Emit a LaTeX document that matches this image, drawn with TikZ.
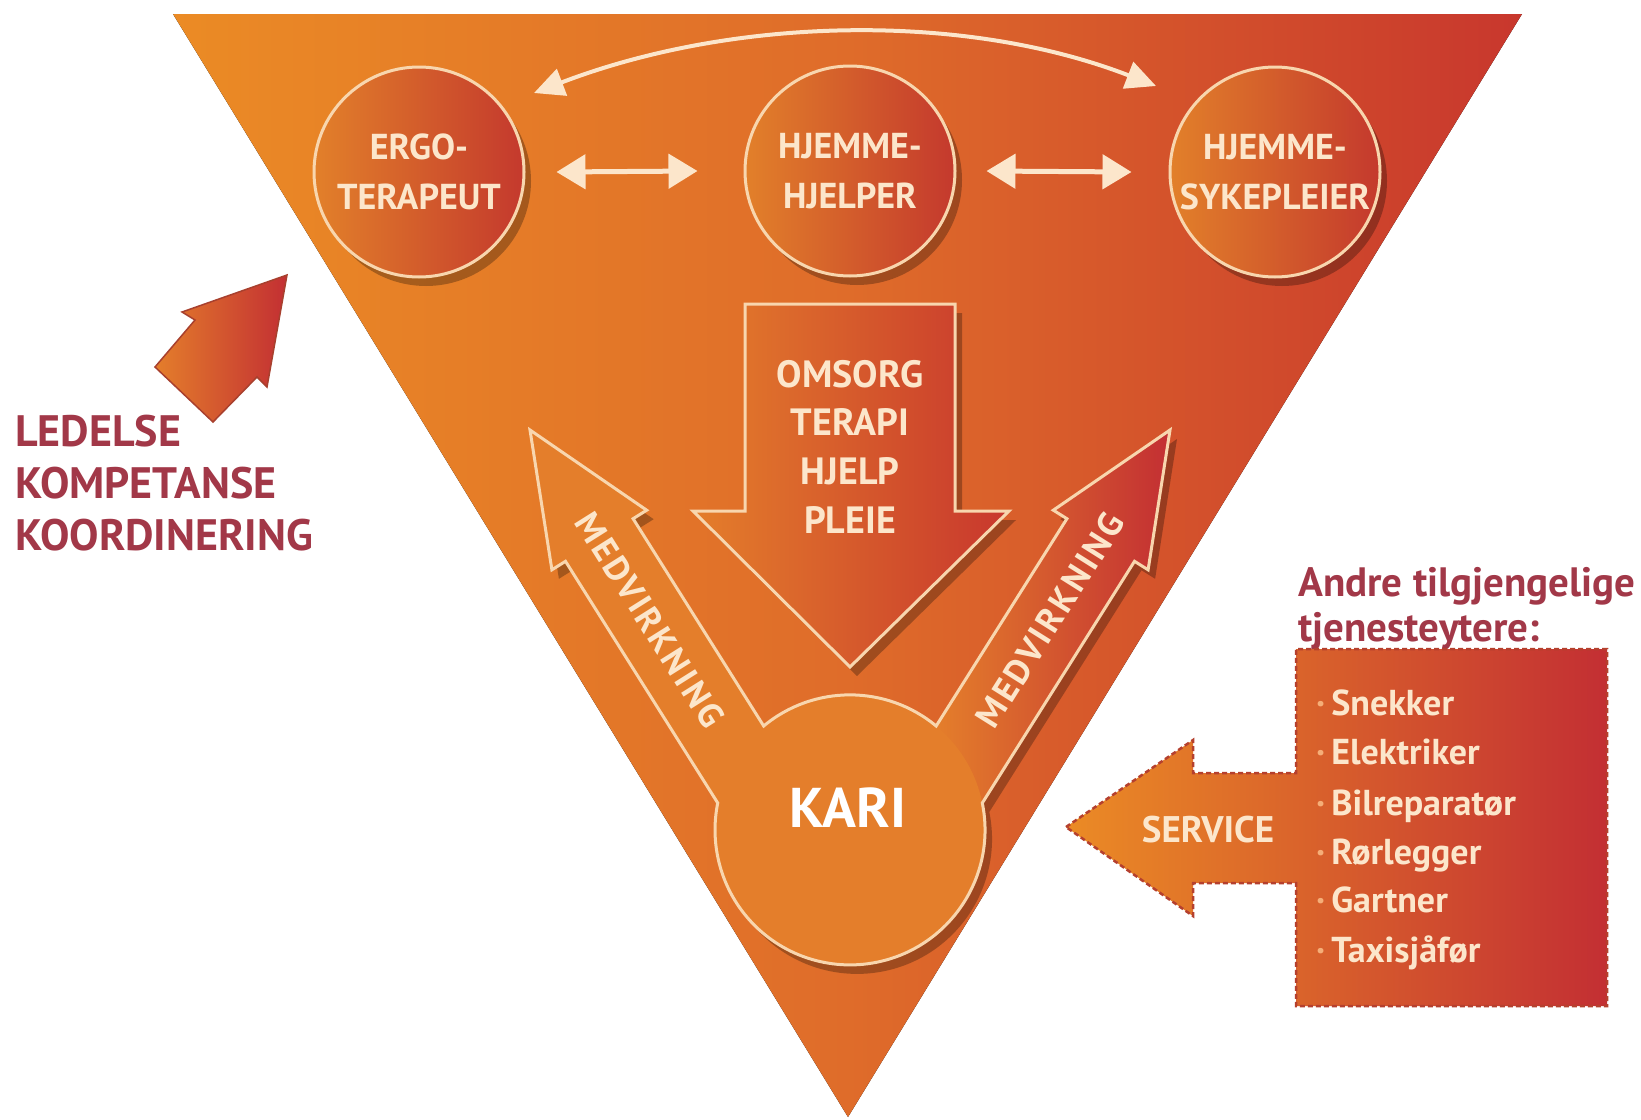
\documentclass[tikz,border=0pt]{standalone}
\usepackage{fontspec}
\setmainfont{PT Sans}
\newfontfamily\medfont[LetterSpace=8]{PT Sans}
\usetikzlibrary{arrows.meta,shadows}

\definecolor{triL}{HTML}{EB8B25}
\definecolor{triM}{HTML}{DF6C2A}
\definecolor{triR}{HTML}{C8372D}
\definecolor{cream}{HTML}{FCE6CB}
\definecolor{rim}{HTML}{F8D6AE}
\definecolor{maroon}{HTML}{A23848}
\definecolor{orA}{HTML}{E47E2B}
\definecolor{redA}{HTML}{C32F33}
\definecolor{cirL}{HTML}{E2802A}
\definecolor{cirR}{HTML}{C4392D}
\definecolor{dashC}{HTML}{B5402E}
\definecolor{bul}{HTML}{F5AE78}
\definecolor{ledline}{HTML}{A8402E}

\tikzset{
  shad/.style={drop shadow={shadow xshift=7pt, shadow yshift=-9pt, opacity=0.28, fill=black}},
  bubble/.style={circle, minimum size=210pt, inner sep=0pt, draw=rim, line width=3pt,
    left color=cirL, right color=cirR, text=cream, align=center,
    font=\bfseries\fontsize{36}{50}\selectfont, shad},
  pairarrow/.style={draw=cream, line width=5pt,
    {Triangle[length=29pt,width=34pt]}-{Triangle[length=29pt,width=34pt]}},
  curvearrow/.style={draw=cream, line width=4pt,
    {Triangle[length=30pt,width=28pt]}-{Triangle[length=30pt,width=28pt]}},
  captxt/.style={text=cream, font=\bfseries\fontsize{38}{44}\selectfont, inner sep=0pt},
  medtxt/.style={text=cream, font=\medfont\bfseries\fontsize{35}{40}\selectfont, inner sep=0pt},
  karitxt/.style={text=white, font=\bfseries\fontsize{56}{60}\selectfont, inner sep=0pt},
  ledtxt/.style={text=maroon, font=\bfseries\fontsize{44}{50}\selectfont, inner sep=0pt, anchor=west},
  andtxt/.style={text=maroon, font=\bfseries\fontsize{41}{46}\selectfont, inner sep=0pt, anchor=base west},
  listtxt/.style={text=cream, font=\bfseries\fontsize{36}{44}\selectfont, inner sep=0pt, anchor=base west},
  outline/.style={draw=rim, line width=3pt}
}

\def\karipath{(530,430) -- (646.7,510.2) -- (633.1,518.7) -- (763.7,726)
  arc[start angle=230.3, end angle=309.7, radius=135]
  -- (1066.9,518.7) -- (1053.3,510.2) -- (1170,430) -- (1148.1,569.8) -- (1134.5,561.3) -- (982.3,803)
  arc[start angle=-11.5, end angle=191.5, radius=135]
  -- (565.5,561.3) -- (551.9,569.8) -- cycle}

\begin{document}
\begin{tikzpicture}[x=1pt,y=-1pt]
\useasboundingbox (0,0) rectangle (1641,1119);
\fill[white] (0,0) rectangle (1641,1119);

% big triangle
\fill[left color=triL, right color=triR, middle color=triM] (173,14) -- (1522,14) -- (848,1117) -- cycle;

% curved arrow on top
\coordinate (cL) at (534,93);
\coordinate (cR) at (1156,86);
\draw[curvearrow] (cL) .. controls (735,16) and (965,12) .. (cR);

% three service circles
\node[bubble] (ergo) at (419,172) {ERGO-\\TERAPEUT};
\node[bubble] (hjelp) at (850,171) {HJEMME-\\HJELPER};
\node[bubble] (syk) at (1275,172) {HJEMME-\\SYKEPLEIER};

\draw[pairarrow] ([xshift=31pt]ergo.east) -- ([xshift=-46pt]hjelp.west);
\draw[pairarrow] ([xshift=30pt]hjelp.east) -- ([xshift=-37pt]syk.west);

% big downward arrow
\path[outline, left color=orA, right color=triR, shad]
  (745,304) -- (955,304) -- (955,511) -- (1009,511) -- (850,667) -- (693,511) -- (745,511) -- cycle;
\node[captxt] (omsorg) at (850,374) {OMSORG};
\node[captxt] (terapi) at (850,422) {TERAPI};
\node[captxt] (hjelptxt) at (850,471) {HJELP};
\node[captxt] (pleie) at (850,520) {PLEIE};

% KARI with the two participation arrows
\path[fill=orA, shad] \karipath;
\fill[left color=orA, right color=redA]
  (936.3,726) -- (1066.9,518.7) -- (1053.3,510.2) -- (1170,430) -- (1148.1,569.8) -- (1134.5,561.3) -- (982.3,803) -- cycle;
\fill[orA] (850,830) circle[radius=135];
\path[outline] \karipath;
\node[medtxt, rotate=-57.8] (medL) at (650,620) {MEDVIRKNING};
\node[medtxt, rotate=57.8] (medR) at (1050,620) {MEDVIRKNING};
\node[karitxt] (kari) at (848,808) {KARI};

% left: leadership arrow and text
\path[draw=ledline, line width=1.5pt, left color=orA, right color=redA]
  (287,275) -- (267,387) -- (257,377) -- (213,422) -- (155,367) -- (195,320) -- (182,312) -- cycle;
\node[ledtxt] (led1) at (15,431) {LEDELSE};
\node[ledtxt] (led2) at (15,483) {KOMPETANSE};
\node[ledtxt] (led3) at (15,535) {KOORDINERING};

% right: other providers
\node[andtxt] (and1) at (1298,596) {Andre tilgjengelige};
\node[andtxt] (and2) at (1298,641) {tjenesteytere:};

\path[draw=dashC, line width=2.5pt, dash pattern=on 5pt off 3pt, left color=triL, right color=redA]
  (1066,827) -- (1193,740) -- (1193,773) -- (1296,773) -- (1296,649) -- (1607,649) -- (1607,1006)
  -- (1296,1006) -- (1296,883) -- (1193,883) -- (1193,916) -- cycle;
\node[captxt, font=\bfseries\fontsize{37}{40}\selectfont] (service) at (1208,830) {SERVICE};

\node[listtxt] (l1) at (1316,715) {{\color{bul}·}\hspace{6pt}Snekker};
\node[listtxt] (l2) at (1316,764) {{\color{bul}·}\hspace{6pt}Elektriker};
\node[listtxt] (l3) at (1316,815) {{\color{bul}·}\hspace{6pt}Bilreparatør};
\node[listtxt] (l4) at (1316,864) {{\color{bul}·}\hspace{6pt}Rørlegger};
\node[listtxt] (l5) at (1316,912) {{\color{bul}·}\hspace{6pt}Gartner};
\node[listtxt] (l6) at (1316,962) {{\color{bul}·}\hspace{6pt}Taxisjåfør};
\end{tikzpicture}
\end{document}
